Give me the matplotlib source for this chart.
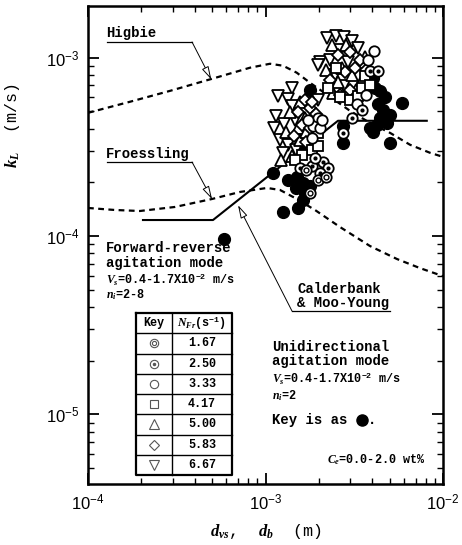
import numpy as np
import matplotlib.pyplot as plt
from matplotlib.ticker import LogLocator, NullFormatter

plt.rcParams['font.family'] = ['Liberation Sans', 'DejaVu Sans']
plt.rcParams['mathtext.fontset'] = 'custom'
plt.rcParams['mathtext.it'] = 'Liberation Serif:italic:bold'
plt.rcParams['mathtext.rm'] = 'Liberation Mono:bold'

# ---- data: d in mm, kL in 1e-4 m/s ----
higbie_d = [0.10, 0.172, 0.290, 0.50, 0.818, 1.06, 1.255, 1.50, 1.78, 2.31, 2.99, 3.88, 5.03, 6.52, 8.45, 10.0]
higbie_k = [4.91, 5.66, 6.52, 7.62, 8.79, 9.25, 9.02, 8.24, 7.24, 6.04, 5.04, 4.31, 3.79, 3.25, 2.93, 2.78]

froess_d = [0.10, 0.142, 0.196, 0.309, 0.50, 0.718, 1.02, 1.207, 1.466, 1.90, 2.63, 3.88, 5.51, 7.42, 10.0]
froess_k = [1.437, 1.40, 1.382, 1.456, 1.614, 1.767, 1.861, 1.813, 1.635, 1.40, 1.123, 0.879, 0.743, 0.661, 0.596]

cald_d = [0.204, 0.506, 2.56, 8.1]
cald_k = [1.23, 1.23, 4.43, 4.43]

# forward-reverse mode, by N_Fr (s^-1)
fr667_d = [2.22, 2.50, 2.77, 3.07, 2.03, 2.31, 2.63, 3.32, 2.92, 2.46, 3.50, 2.77, 1.98, 1.18, 1.41,
           1.34, 1.41, 1.15, 1.27, 1.47, 1.21, 1.34, 1.26, 1.49, 1.12, 1.98]
fr667_k = [12.95, 13.29, 13.12, 12.46, 9.50, 9.75, 11.09, 11.38, 9.50, 8.03, 9.02, 6.96, 5.81, 6.12, 6.78,
           5.88, 5.37, 4.72, 4.26, 4.48, 3.46, 3.25, 2.93, 3.04, 4.04, 9.14]

fr500_d = [2.37, 2.84, 2.19, 2.70, 3.07, 3.50, 2.40, 3.24, 3.64, 2.56, 1.56, 1.37, 1.67, 1.52, 1.31,
           1.56, 1.41, 1.69, 1.22]
fr500_k = [11.83, 11.83, 8.56, 8.79, 8.03, 7.52, 6.36, 6.61, 10.13, 7.33, 5.66, 4.97, 4.60, 4.04, 3.84,
           3.46, 2.82, 3.84, 2.67]

fr583_d = [2.56, 2.99, 2.31, 2.81, 3.19, 3.41, 2.99, 2.63, 3.68, 1.67, 1.78, 1.93, 1.52, 1.61, 1.78,
           1.45, 1.69, 1.83]
fr583_k = [10.39, 10.81, 7.52, 8.34, 8.79, 9.75, 6.61, 6.20, 8.56, 5.81, 5.24, 4.85, 4.97, 4.20, 4.04,
           3.65, 3.37, 5.66]

fr417_d = [2.25, 2.63, 2.99, 3.32, 3.64, 3.50, 3.88, 2.50, 1.83, 1.98, 1.61, 1.98, 1.47]
fr417_k = [6.78, 6.04, 5.81, 6.12, 7.92, 6.78, 7.05, 8.79, 3.04, 3.20, 2.85, 3.79, 2.67]

fr333_d = [4.09, 3.28, 3.68, 3.78, 1.98, 1.85, 2.03, 1.74, 1.83, 2.08]
fr333_k = [10.95, 5.51, 6.20, 9.75, 4.60, 4.15, 4.04, 4.48, 3.55, 4.48]

fr250_d = [3.88, 4.30, 3.50, 3.07, 2.73, 1.56, 1.83, 2.11, 2.25, 2.03, 1.90]
fr250_k = [8.45, 8.45, 5.10, 4.60, 3.79, 2.41, 2.47, 2.61, 2.41, 2.26, 2.74]

fr167_d = [1.78, 1.69, 1.98, 2.19]
fr167_k = [1.74, 2.35, 2.06, 2.15]

# unidirectional mode
uni_d = [0.58, 1.10, 1.61, 1.78, 1.26, 1.34, 1.50, 1.63, 1.78, 1.67, 1.63, 1.52, 1.49, 2.73, 2.73,
         4.03, 4.42, 4.71, 4.30, 4.59, 5.03, 4.42, 4.25, 4.84, 4.03, 3.88, 5.03, 5.88, 4.14]
uni_k = [0.96, 2.26, 3.16, 6.61, 1.36, 2.06, 2.15, 1.99, 1.91, 1.74, 1.59, 1.44, 1.86, 4.15, 3.33,
         7.72, 6.52, 6.04, 5.51, 5.10, 4.78, 4.60, 4.20, 4.31, 3.84, 4.04, 3.33, 5.59, 6.78]

key_labels = ['1.67', '2.50', '3.33', '4.17', '5.00', '5.83', '6.67']

mm = 1e-3
kk = 1e-4

fig = plt.figure(figsize=(4.62, 5.45), dpi=100)
ax = fig.add_axes([0.1905, 0.1119, 0.7684, 0.8771])
ax.set_xscale('log')
ax.set_yscale('log')
ax.set_xlim(1e-4, 1e-2)
ax.set_ylim(4.07e-6, 1.95e-3)

dash = (0, (2.6, 2.0))
ax.plot(np.array(higbie_d) * mm, np.array(higbie_k) * kk, color='k', lw=1.6, ls=dash, zorder=2)
ax.plot(np.array(froess_d) * mm, np.array(froess_k) * kk, color='k', lw=1.6, ls=dash, zorder=2)
ax.plot(np.array(cald_d) * mm, np.array(cald_k) * kk, color='k', lw=1.5, zorder=2)

def pts(d, k):
    return np.array(d) * mm, np.array(k) * kk

ax.plot(*pts(uni_d, uni_k), 'o', ms=8.5, mfc='k', mec='k', ls='none', zorder=3)
open_kw = dict(mfc='white', mec='k', mew=1.3, ls='none', zorder=4)
ax.plot(*pts(fr667_d, fr667_k), 'v', ms=8.5, **open_kw)
ax.plot(*pts(fr500_d, fr500_k), '^', ms=8.5, **open_kw)
ax.plot(*pts(fr583_d, fr583_k), 'D', ms=6.5, **open_kw)
ax.plot(*pts(fr417_d, fr417_k), 's', ms=7.5, **open_kw)
ax.plot(*pts(fr333_d, fr333_k), 'o', ms=7.5, **open_kw)
ax.plot(*pts(fr250_d, fr250_k), 'o', ms=7.5, **open_kw)
ax.plot(*pts(fr250_d, fr250_k), 'o', ms=2, mfc='k', mec='k', ls='none', zorder=5)
ax.plot(*pts(fr167_d, fr167_k), 'o', ms=7.5, **open_kw)
ax.plot(*pts(fr167_d, fr167_k), 'o', ms=3.5, mfc='white', mec='k', mew=1.0, ls='none', zorder=5)

# axes styling
for s in ax.spines.values():
    s.set_linewidth(1.8)
for axis in (ax.xaxis, ax.yaxis):
    axis.set_major_locator(LogLocator(base=10, numticks=10))
    axis.set_minor_locator(LogLocator(base=10, subs=np.arange(2, 10), numticks=20))
    axis.set_minor_formatter(NullFormatter())
ax.tick_params(which='both', direction='in', top=True, right=True)
ax.tick_params(which='major', length=8, width=1.3, labelsize=12, pad=6)
ax.tick_params(which='minor', length=4.5, width=1.0)

ax.set_xlabel(r'$d_{vs}$,  $d_b$  (m)', fontsize=12, family='Liberation Mono', labelpad=7)
ax.set_ylabel(r'$k_L$  (m/s)', fontsize=12, family='Liberation Mono')
ax.yaxis.set_label_coords(-0.185, 0.75)

mono = dict(family=['Liberation Mono', 'DejaVu Sans'], weight='bold', fontsize=10,
            transform=ax.transAxes, va='center')
small = dict(mono, fontsize=8.5)
arrow = dict(arrowstyle='-|>,head_length=0.8,head_width=0.22', fc='white', ec='k', lw=0.7,
             shrinkA=0, shrinkB=0)

# leader labels
for text, ty, uy, tip in [('Higbie', 0.9435, 0.9247, (4.95e-4, 7.55e-4)),
                          ('Froessling', 0.6904, 0.6736, (5.0e-4, 1.61e-4))]:
    ax.text(0.051, ty, text, **mono)
    ax.plot([0.0535, 0.293], [uy, uy], color='k', lw=0.9, transform=ax.transAxes)
    ax.annotate('', xy=tip, xycoords='data', xytext=(0.293, uy), textcoords='axes fraction',
                arrowprops=arrow)

ax.text(0.589, 0.408, 'Calderbank', **mono)
ax.text(0.589, 0.3787, '& Moo-Young', **mono)
ax.plot([0.5746, 0.8507], [0.3619, 0.3619], color='k', lw=0.9, transform=ax.transAxes)
ax.annotate('', xy=(7.0e-4, 1.49e-4), xycoords='data', xytext=(0.5746, 0.3619),
            textcoords='axes fraction', arrowprops=arrow)

# forward-reverse block
ax.text(0.051, 0.4937, 'Forward-reverse', **mono)
ax.text(0.051, 0.4623, 'agitation mode', **mono)
ax.text(0.051, 0.4268, r'$V_s$=0.4-1.7X10$^{-2}$ m/s', **small)
ax.text(0.051, 0.3954, r'$n_i$=2-8', **small)

# unidirectional block
ax.text(0.518, 0.2866, 'Unidirectional', **mono)
ax.text(0.518, 0.2573, 'agitation mode', **mono)
ax.text(0.518, 0.2197, r'$V_s$=0.4-1.7X10$^{-2}$ m/s', **small)
ax.text(0.518, 0.1841, r'$n_i$=2', **small)
ax.text(0.518, 0.1339, 'Key is as', **mono)
ax.plot([0.772], [0.1339], 'o', ms=8, mfc='k', mec='k', transform=ax.transAxes)
ax.text(0.788, 0.1339, '.', **mono)
ax.text(0.949, 0.0502, r'$C_e$=0.0-2.0 wt%', **dict(small, ha='right'))

# key table
x0, x1, x2 = 0.1352, 0.2366, 0.4056
yt, yb = 0.3577, 0.0188
rh = (yt - yb) / 8
tkw = dict(color='k', transform=ax.transAxes, zorder=6)
ax.plot([x0, x2, x2, x0, x0], [yt, yt, yb, yb, yt], lw=1.6, **tkw)
ax.plot([x1, x1], [yt, yb], lw=1.0, **tkw)
for i in range(1, 8):
    ax.plot([x0, x2], [yt - i * rh] * 2, lw=1.0, **tkw)
ax.text((x0 + x1) / 2, yt - rh / 2, 'Key', **dict(small, ha='center'))
ax.text((x1 + x2) / 2, yt - rh / 2, r'$N_{Fr}$(s$^{-1}$)', **dict(small, ha='center'))
sym_kw = dict(transform=ax.transAxes, mfc='white', mec='#555555', mew=0.8, ls='none', zorder=7)
symbols = [('o', 6), ('o', 6), ('o', 6), ('s', 5.5), ('^', 6.5), ('D', 5), ('v', 6.5)]
for i, ((m, s), lab) in enumerate(zip(symbols, key_labels)):
    yc = yt - (i + 1.5) * rh
    ax.plot([(x0 + x1) / 2], [yc], m, ms=s, **sym_kw)
    if i == 0:
        ax.plot([(x0 + x1) / 2], [yc], 'o', ms=3, **sym_kw)
    if i == 1:
        ax.plot([(x0 + x1) / 2], [yc], 'o', ms=1.5, transform=ax.transAxes,
                mfc='#555555', mec='#555555', zorder=8)
    ax.text((x1 + x2) / 2, yc, lab, **dict(small, ha='center'))

fig.savefig('out.png', dpi=100)
